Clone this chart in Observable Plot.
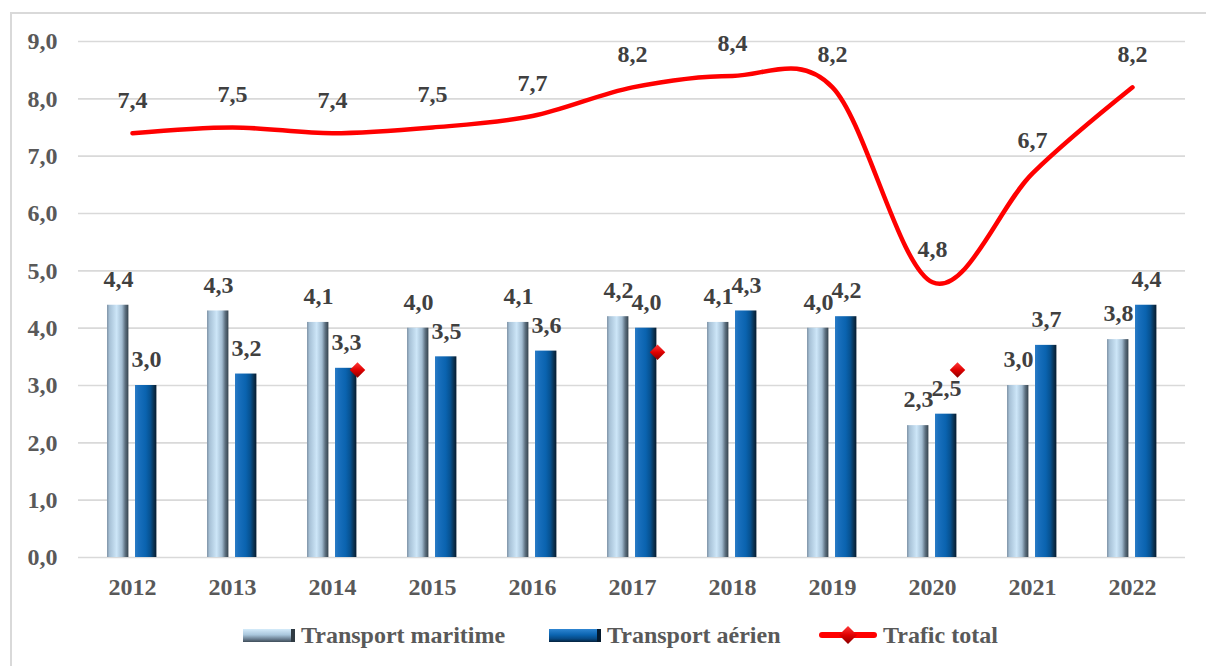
<!DOCTYPE html>
<html>
<head>
<meta charset="utf-8">
<script src="https://cdn.jsdelivr.net/npm/d3@7"></script>
<script src="https://cdn.jsdelivr.net/npm/@observablehq/plot@0.6"></script>
<style>
  html, body { margin: 0; padding: 0; background: #fff; }
  body { font-family: "Liberation Serif", "Times New Roman", serif; width: 1206px; height: 666px; overflow: hidden; position: relative; }
  #frame { position: absolute; left: 10px; top: 12px; width: 1220px; height: 680px; border: 2px solid #d9d9d9; box-sizing: border-box; pointer-events: none; }
  #chart { position: relative; }
  #chart svg text { font-family: "Liberation Serif", "Times New Roman", serif; font-weight: bold; }
  #legend { position: relative; height: 46px; font-weight: bold; font-size: 24px; color: #595959; }
  .item { position: absolute; top: 0; height: 46px; display: flex; align-items: center; }
  .item svg { display: block; margin-right: 6px; }
</style>
</head>
<body>
<div id="chart"></div>
<div id="legend">
  <div class="item" style="left:243px">
    <svg width="52" height="13"><defs>
      <linearGradient id="lgMar" x1="0" y1="0" x2="0" y2="1">
        <stop offset="0" stop-color="#d4ebfa"/><stop offset="0.45" stop-color="#a9c6dc"/><stop offset="0.75" stop-color="#6f8497"/><stop offset="1" stop-color="#3e4d59"/>
      </linearGradient></defs>
      <rect x="0" y="0" width="52" height="13" fill="url(#lgMar)"/>
      <rect x="48" y="0" width="4" height="13" fill="#2f3a42"/>
    </svg><span>Transport maritime</span>
  </div>
  <div class="item" style="left:549px">
    <svg width="52" height="13"><defs>
      <linearGradient id="lgAer" x1="0" y1="0" x2="0" y2="1">
        <stop offset="0" stop-color="#2f86d2"/><stop offset="0.45" stop-color="#0b64b0"/><stop offset="0.75" stop-color="#074a85"/><stop offset="1" stop-color="#05223d"/>
      </linearGradient></defs>
      <rect x="0" y="0" width="52" height="13" fill="url(#lgAer)"/>
      <rect x="48" y="0" width="4" height="13" fill="#041a2e"/>
    </svg><span>Transport aérien</span>
  </div>
  <div class="item" style="left:819px">
    <svg width="58" height="22"><defs>
      <linearGradient id="lgDia" x1="0" y1="0" x2="0" y2="1">
        <stop offset="0" stop-color="#ff3a3a"/><stop offset="0.5" stop-color="#e00000"/><stop offset="1" stop-color="#8a0000"/>
      </linearGradient></defs>
      <line x1="3" y1="11" x2="55" y2="11" stroke="#ff0000" stroke-width="6" stroke-linecap="round"/>
      <path d="M29,2 L38,11 L29,20 L20,11 Z" fill="url(#lgDia)"/>
    </svg><span>Trafic total</span>
  </div>
</div>
<div id="frame"></div>
<script>
const annees = ["2012","2013","2014","2015","2016","2017","2018","2019","2020","2021","2022"];
const maritime = [4.4, 4.3, 4.1, 4.0, 4.1, 4.2, 4.1, 4.0, 2.3, 3.0, 3.8];
const aerien   = [3.0, 3.2, 3.3, 3.5, 3.6, 4.0, 4.3, 4.2, 2.5, 3.7, 4.4];
const total    = [7.4, 7.5, 7.4, 7.5, 7.7, 8.2, 8.4, 8.2, 4.8, 6.7, 8.2];
const yTicks   = [0, 1, 2, 3, 4, 5, 6, 7, 8, 9];
const marqueursAnnees  = ["2014", "2017", "2020"];
const marqueursValeurs = [3.27, 3.58, 3.27];

const fmt = d => d.toFixed(1).replace(".", ",");
const rows = annees.map((a, i) => ({annee: a, maritime: maritime[i], aerien: aerien[i], total: total[i]}));
const marqueurs = marqueursAnnees.map((a, i) => ({annee: a, valeur: marqueursValeurs[i]}));

const labelStyle = {fill: "#404040", fontSize: 24, fontWeight: "bold"};

const chart = Plot.plot({
  width: 1206,
  height: 612,
  marginLeft: 78,
  marginRight: 21,
  marginTop: 41,
  marginBottom: 55,
  style: {fontFamily: "'Liberation Serif', 'Times New Roman', serif", fontWeight: "bold", fontSize: "24px", color: "#595959", background: "transparent", overflow: "visible"},
  x: {domain: annees, padding: 0, tickSize: 0, tickPadding: 20, label: null},
  y: {domain: [0, 9], ticks: yTicks, tickSize: 0, tickPadding: 21, tickFormat: fmt, label: null},
  marks: [
    Plot.ruleY(yTicks, {stroke: "#d9d9d9", strokeWidth: 1.6}),
    Plot.barY(rows, {x: "annee", y: "maritime", fill: "url(#gMar)", insetLeft: 25, insetRight: 53.6}),
    Plot.barY(rows, {x: "annee", y: "aerien", fill: "url(#gAer)", insetLeft: 53, insetRight: 25.6}),
    Plot.line(rows, {x: "annee", y: "total", curve: "cardinal", tension: 0, stroke: "#ff0000", strokeWidth: 4.5, strokeLinecap: "round"}),
    Plot.dot(marqueurs, {x: "annee", y: "valeur", symbol: "diamond2", r: 7, fill: "url(#gDia)", stroke: "none", dx: 25}),
    Plot.text(rows, {x: "annee", y: "maritime", text: d => fmt(d.maritime), dx: -14, dy: -26, ...labelStyle}),
    Plot.text(rows, {x: "annee", y: "aerien", text: d => fmt(d.aerien), dx: 14, dy: -26, ...labelStyle}),
    Plot.text(rows, {x: "annee", y: "total", text: d => fmt(d.total), dy: -33, ...labelStyle})
  ]
});

document.getElementById("chart").appendChild(chart);

const defs = d3.select(chart).insert("defs", ":first-child");
function grad(id, stops, vertical) {
  const g = defs.append("linearGradient").attr("id", id)
    .attr("x1", 0).attr("y1", 0).attr("x2", vertical ? 0 : 1).attr("y2", vertical ? 1 : 0);
  stops.forEach(([o, c]) => g.append("stop").attr("offset", o).attr("stop-color", c));
}
grad("gMar", [[0, "#7f93a6"], [0.12, "#a7c1d6"], [0.45, "#cde6f8"], [0.7, "#a3bdd2"], [0.85, "#5e7181"], [1, "#35434e"]]);
grad("gAer", [[0, "#2b7cc6"], [0.15, "#1a70be"], [0.5, "#0a63af"], [0.72, "#07518f"], [0.88, "#0a3252"], [1, "#051b30"]]);
grad("gDia", [[0, "#ff3a3a"], [0.5, "#e00000"], [1, "#8a0000"]], true);
</script>
</body>
</html>
